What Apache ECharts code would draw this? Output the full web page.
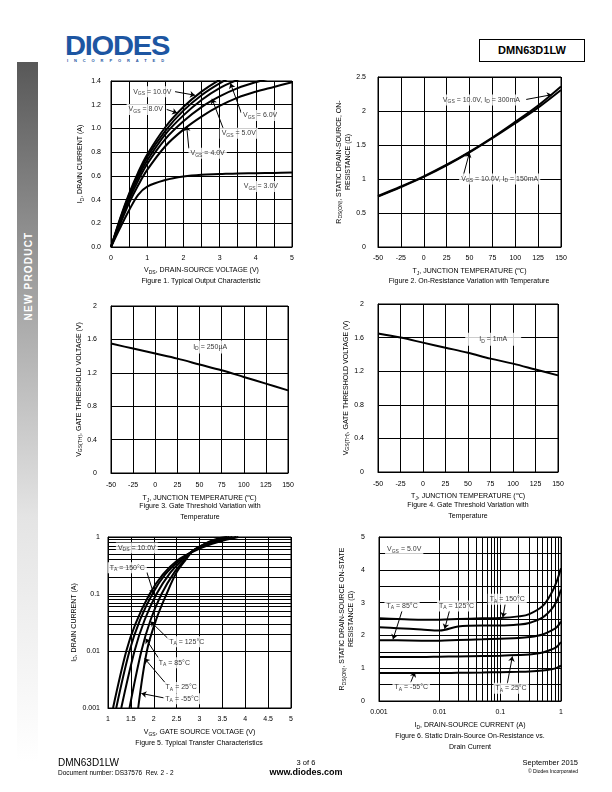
<!DOCTYPE html>
<html><head><meta charset="utf-8">
<script src="https://cdn.jsdelivr.net/npm/echarts@6/dist/echarts.min.js"></script>
<style>
html,body{margin:0;padding:0;background:#fff;}
#page{position:relative;width:612px;height:792px;overflow:hidden;font-family:"Liberation Sans",Arial,sans-serif;}
#side{position:absolute;left:17px;top:62px;width:21px;height:700px;background:linear-gradient(#585858,#9c9c9c 30%,#e4e4e4 65%,#fff);}
#sidetxt{position:absolute;left:28px;top:276px;transform:translate(-50%,-50%) rotate(-90deg);color:#fff;font-weight:bold;font-size:10px;letter-spacing:1.2px;white-space:nowrap;}
#logo{position:absolute;left:65px;top:30px;color:#1d56a2;font-weight:bold;font-size:28px;letter-spacing:-1.2px;transform-origin:left top;transform:scaleX(1.04);}
#inc{position:absolute;left:67px;top:58px;color:#1d56a2;font-size:4px;font-weight:bold;letter-spacing:5.9px;}
#part{position:absolute;left:479px;top:39px;width:104px;height:21px;border:1px solid #000;font-weight:bold;font-size:11px;line-height:21px;text-align:center;}
#chart{position:absolute;left:0;top:0;width:612px;height:792px;}
.ft{position:absolute;white-space:nowrap;color:#000;}
</style></head>
<body><div id="page">
<div id="side"></div><div id="sidetxt">NEW PRODUCT</div>
<div id="logo">DIODES</div><div id="inc">INCORPORATED</div>
<div id="part">DMN63D1LW</div>
<div id="chart"></div>
<div class="ft" style="left:58px;top:757px;font-size:10px;">DMN63D1LW</div>
<div class="ft" style="left:58px;top:769px;font-size:6.5px;">Document number: DS37576&nbsp; Rev. 2 - 2</div>
<div class="ft" style="left:306px;top:758px;font-size:7.5px;transform:translateX(-50%);">3 of 6</div>
<div class="ft" style="left:306px;top:767px;font-size:9px;font-weight:bold;transform:translateX(-50%);">www.diodes.com</div>
<div class="ft" style="right:34px;top:758px;font-size:7.5px;">September 2015</div>
<div class="ft" style="right:34px;top:768px;font-size:5px;">© Diodes Incorporated</div>
</div>
<script>
// ---------- DATA ----------
// Fig 1: output characteristic
const f1_vds = [0, 0.25, 0.5, 0.75, 1, 1.5, 2, 2.5, 3, 3.5, 4, 4.5, 5];
const f1_id_10 = [0, 0.24, 0.45, 0.63, 0.78, 1.01, 1.18, 1.31, 1.41, 1.49, 1.55, 1.6, 1.64];
const f1_id_8  = [0, 0.23, 0.44, 0.61, 0.76, 0.98, 1.15, 1.28, 1.38, 1.46, 1.52, 1.57, 1.61];
const f1_id_6  = [0, 0.22, 0.42, 0.59, 0.73, 0.95, 1.11, 1.24, 1.34, 1.41, 1.47, 1.52, 1.56];
const f1_id_5  = [0, 0.21, 0.40, 0.56, 0.70, 0.91, 1.06, 1.18, 1.27, 1.34, 1.39, 1.43, 1.46];
const f1_id_4  = [0, 0.19, 0.37, 0.52, 0.65, 0.85, 0.99, 1.10, 1.19, 1.26, 1.31, 1.35, 1.39];
const f1_id_3  = [0, 0.16, 0.31, 0.44, 0.51, 0.565, 0.595, 0.61, 0.615, 0.62, 0.622, 0.625, 0.628];
// Fig 2: on-resistance vs temperature
const f2_tj = [-50, -25, 0, 25, 50, 75, 100, 125, 150];
const f2_r_150mA = [0.74, 0.88, 1.03, 1.2, 1.39, 1.6, 1.82, 2.05, 2.31];
const f2_r_300mA = [0.75, 0.89, 1.04, 1.21, 1.40, 1.61, 1.84, 2.08, 2.36];
// Fig 3 / Fig 4: gate threshold vs temperature
const f3_tj = [-50, -25, 0, 25, 50, 75, 100, 125, 150];
const f3_vth_250uA = [1.55, 1.49, 1.43, 1.37, 1.30, 1.23, 1.15, 1.07, 0.99];
const f4_vth_1mA = [1.65, 1.60, 1.54, 1.48, 1.42, 1.35, 1.29, 1.22, 1.15];
// Fig 5: transfer characteristics (VGS, ID)
const f5_vgs_150 = [1.11, 1.4, 1.6, 1.91, 2.2, 2.5, 2.85, 3.2, 3.6, 3.85];
const f5_id_150  = [0.001, 0.01, 0.03, 0.1, 0.22, 0.38, 0.55, 0.72, 0.9, 1.0];
const f5_vgs_125 = [1.18, 1.47, 1.7, 1.97, 2.25, 2.55, 2.85, 3.2, 3.6, 3.8];
const f5_id_125  = [0.001, 0.01, 0.035, 0.1, 0.22, 0.38, 0.56, 0.75, 0.93, 1.0];
const f5_vgs_85  = [1.29, 1.58, 1.8, 2.06, 2.35, 2.6, 2.85, 3.2, 3.5, 3.72];
const f5_id_85   = [0.001, 0.01, 0.035, 0.1, 0.23, 0.38, 0.57, 0.78, 0.93, 1.0];
const f5_vgs_25  = [1.47, 1.73, 1.93, 2.17, 2.45, 2.7, 2.85, 3.2, 3.5, 3.65];
const f5_id_25   = [0.001, 0.01, 0.035, 0.1, 0.24, 0.42, 0.57, 0.8, 0.95, 1.0];
const f5_vgs_m55 = [1.66, 1.85, 2.05, 2.28, 2.5, 2.7, 2.87, 3.2, 3.45, 3.6];
const f5_id_m55  = [0.001, 0.01, 0.035, 0.1, 0.24, 0.4, 0.58, 0.82, 0.96, 1.0];
// Fig 6: on-resistance vs drain current
const f6_id = [0.001, 0.002, 0.005, 0.01, 0.02, 0.05, 0.1, 0.2, 0.3, 0.5, 0.7, 0.85, 1];
const f6_r_150 = [2.52, 2.5, 2.48, 2.48, 2.5, 2.52, 2.53, 2.58, 2.65, 2.9, 3.3, 3.65, 4.05];
const f6_r_125 = [2.25, 2.22, 2.18, 2.15, 2.27, 2.3, 2.3, 2.33, 2.38, 2.55, 2.8, 3.05, 3.4];
const f6_r_85  = [1.85, 1.85, 1.84, 1.84, 1.86, 1.88, 1.9, 1.92, 1.95, 2.03, 2.15, 2.25, 2.42];
const f6_r_25  = [1.34, 1.34, 1.34, 1.35, 1.36, 1.37, 1.38, 1.4, 1.42, 1.48, 1.57, 1.65, 1.8];
const f6_r_m55 = [0.85, 0.85, 0.85, 0.85, 0.86, 0.87, 0.88, 0.89, 0.9, 0.93, 0.97, 1.01, 1.08];
// log minor grid values
const minorLog = [0.002,0.003,0.004,0.005,0.006,0.007,0.008,0.009,0.02,0.03,0.04,0.05,0.06,0.07,0.08,0.09,0.2,0.3,0.4,0.5,0.6,0.7,0.8,0.9];
// annotations: [x, y, text]  and arrows: [x1, y1, x2, y2]
const f1_labels = [[1.14,1.31,'V{s|GS} = 10.0V'],[0.96,1.16,'V{s|GS} = 8.0V'],[4.12,1.11,'V{s|GS} = 6.0V'],[3.53,0.96,'V{s|GS} = 5.0V'],[2.67,0.79,'V{s|GS} = 4.0V'],[4.14,0.51,'V{s|GS} = 3.0V']];
const f1_arrows = [[1.77,1.31,2.32,1.28],[1.54,1.16,1.83,1.13],[3.6,1.13,3.3,1.38],[3.1,1.0,2.79,1.25],[2.15,0.83,2.09,1.02]];
const f2_labels = [[63,2.16,'V{s|GS} = 10.0V, I{s|D} = 300mA'],[83,1.0,'V{s|GS} = 10.0V, I{s|D} = 150mA']];
const f2_arrows = [[112,2.17,140,2.24],[43,1.04,50,1.39]];
const f3_labels = [[62,1.51,'I{s|D} = 250µA']];
const f4_labels = [[78,1.58,'I{s|D} = 1mA']];
const f5_labels = [[1.63,0.64,'V{s|DS} = 10.0V'],[1.42,0.29,'T{s|A} = 150°C'],[2.72,0.0146,'T{s|A} = 125°C'],[2.45,0.0062,'T{s|A} = 85°C'],[2.6,0.0023,'T{s|A} = 25°C'],[2.62,0.00146,'T{s|A} = -55°C']];
const f5_arrows = [[1.85,0.24,2.0,0.1],[2.33,0.016,1.93,0.033],[2.15,0.0066,1.82,0.0166],[2.28,0.0026,1.8,0.0074],[2.23,0.0015,1.73,0.0018]];
const f6_labels = [[0.0026,4.63,'V{s|GS} = 5.0V'],[0.0024,2.9,'T{s|A} = 85°C'],[0.019,2.9,'T{s|A} = 125°C'],[0.13,3.1,'T{s|A} = 150°C'],[0.0034,0.42,'T{s|A} = -55°C'],[0.15,0.39,'T{s|A} = 25°C']];
const f6_arrows = [[0.0024,2.75,0.0017,1.88],[0.0145,2.75,0.0121,2.2],[0.12,2.95,0.11,2.55],[0.0033,0.55,0.0039,0.88],[0.13,0.52,0.158,1.36]];

// ---------- CHART ----------
const F = '"Liberation Sans", Arial, sans-serif';
const R = { s: { fontSize: 5, fontFamily: F, color: '#000', verticalAlign: 'bottom', lineHeight: 6 } };
const GL = { color: '#000', width: 1 };
const zip = (a, b) => a.map((v, i) => [v, b[i]]);

const grids = [
  { left: 111, top: 81, width: 181, height: 166 },
  { left: 378, top: 77, width: 183, height: 170 },
  { left: 111, top: 306, width: 177, height: 167 },
  { left: 378, top: 304, width: 180, height: 168 },
  { left: 108, top: 537, width: 183, height: 171 },
  { left: 379, top: 537, width: 182, height: 164 }
].map(g => Object.assign({ show: true, borderColor: '#000', borderWidth: 1, containLabel: false }, g));

function lab(margin, fmt) {
  const o = { color: '#000', fontSize: 7, fontFamily: F, margin };
  if (fmt) o.formatter = fmt;
  return o;
}
function axis(gi, o) {
  return Object.assign({
    gridIndex: gi,
    axisLine: { show: true, onZero: false, lineStyle: GL },
    axisTick: { show: false },
    splitLine: { show: true, lineStyle: GL },
    axisLabel: lab(8),
    nameLocation: 'middle',
    nameTextStyle: { color: '#000', fontSize: 7, fontFamily: F, lineHeight: 9, rich: R }
  }, o);
}
const minor2 = { minorTick: { show: false, splitNumber: 2 }, minorSplitLine: { show: true, lineStyle: GL } };

const xAxes = [
  axis(0, Object.assign({ type: 'value', min: 0, max: 5, interval: 1, name: 'V{s|DS}, DRAIN-SOURCE VOLTAGE (V)', nameGap: 19 }, minor2)),
  axis(1, { type: 'value', min: -50, max: 150, interval: 25, name: 'T{s|J}, JUNCTION TEMPERATURE (℃)', nameGap: 20 }),
  axis(2, { type: 'value', min: -50, max: 150, interval: 25, name: 'T{s|J}, JUNCTION TEMPERATURE (℃)', nameGap: 21, axisLabel: lab(9) }),
  axis(3, { type: 'value', min: -50, max: 150, interval: 25, name: 'T{s|J}, JUNCTION TEMPERATURE (℃)', nameGap: 20, axisLabel: lab(9) }),
  axis(4, { type: 'value', min: 1, max: 5, interval: 0.5, name: 'V{s|GS}, GATE SOURCE VOLTAGE (V)', nameGap: 20 }),
  axis(5, { type: 'log', logBase: 10, min: 0.001, max: 1, name: 'I{s|D}, DRAIN-SOURCE CURRENT (A)', nameGap: 20 })
];
const yAxes = [
  axis(0, { type: 'value', min: 0, max: 1.4, interval: 0.2, name: 'I{s|D}, DRAIN CURRENT (A)', nameGap: 26, axisLabel: lab(10, v => v.toFixed(1)) }),
  axis(1, { type: 'value', min: 0, max: 2.5, interval: 0.5, name: 'R{s|DS(ON)}, STATIC DRAIN-SOURCE, ON-\nRESISTANCE (Ω)', nameGap: 22, axisLabel: lab(12) }),
  axis(2, { type: 'value', min: 0, max: 2, interval: 0.4, name: 'V{s|GS(TH)}, GATE THRESHOLD VOLTAGE (V)', nameGap: 26, axisLabel: lab(14, v => String(+v.toFixed(1))) }),
  axis(3, { type: 'value', min: 0, max: 2, interval: 0.4, name: 'V{s|GS(TH)}, GATE THRESHOLD VOLTAGE (V)', nameGap: 25, axisLabel: lab(14, v => String(+v.toFixed(1))) }),
  axis(4, { type: 'log', logBase: 10, min: 0.001, max: 1, name: 'I{s|D}, DRAIN CURRENT (A)', nameGap: 22, axisLabel: lab(8) }),
  axis(5, Object.assign({ type: 'value', min: 0, max: 5, interval: 1, name: 'R{s|DS(ON)}, STATIC DRAIN-SOURCE ON-STATE\nRESISTANCE (Ω)', nameGap: 23, axisLabel: lab(14) }, minor2))
];

const series = [];
function curve(gi, data) {
  series.push({ type: 'line', xAxisIndex: gi, yAxisIndex: gi, data, smooth: 0.35, showSymbol: false, symbol: 'none', clip: true, silent: true,
    lineStyle: { color: '#000', width: 2 }, z: 5 });
}
function notes(gi, labels, arrows, pad) {
  const s = { type: 'scatter', xAxisIndex: gi, yAxisIndex: gi, symbolSize: 1, itemStyle: { color: 'rgba(0,0,0,0)' }, silent: true, z: 6,
    data: labels.map(l => ({ value: [l[0], l[1]], name: l[2] })),
    label: { show: true, position: 'inside', formatter: p => p.name, color: '#000', fontSize: 7, fontFamily: F, lineHeight: 9,
      backgroundColor: '#fff', padding: pad || [1, 2], rich: R } };
  if (arrows && arrows.length) {
    s.markLine = { silent: true, symbol: ['none', 'arrow'], symbolSize: 5, animation: false,
      lineStyle: { color: '#000', width: 1, type: 'solid' }, label: { show: false },
      data: arrows.map(a => [{ coord: [a[0], a[1]] }, { coord: [a[2], a[3]] }]) };
  }
  series.push(s);
}
function minorLines(gi, dim) {
  series.push({ type: 'line', xAxisIndex: gi, yAxisIndex: gi, data: [], silent: true,
    markLine: { silent: true, symbol: ['none', 'none'], animation: false, label: { show: false },
      lineStyle: { color: '#000', width: 1, type: 'solid' },
      data: minorLog.map(v => ({ [dim]: v })) } });
}

// Fig 1
[f1_id_10, f1_id_8, f1_id_6, f1_id_5, f1_id_4, f1_id_3].forEach(d => curve(0, zip(f1_vds, d)));
notes(0, f1_labels, f1_arrows);
// Fig 2
curve(1, zip(f2_tj, f2_r_150mA)); curve(1, zip(f2_tj, f2_r_300mA));
notes(1, f2_labels, f2_arrows);
// Fig 3, 4
curve(2, zip(f3_tj, f3_vth_250uA)); notes(2, f3_labels, [], [2, 12]);
curve(3, zip(f3_tj, f4_vth_1mA)); notes(3, f4_labels, [], [2, 14]);
// Fig 5
minorLines(4, 'yAxis');
[[f5_vgs_150, f5_id_150], [f5_vgs_125, f5_id_125], [f5_vgs_85, f5_id_85], [f5_vgs_25, f5_id_25], [f5_vgs_m55, f5_id_m55]]
  .forEach(p => curve(4, zip(p[0], p[1])));
notes(4, f5_labels, f5_arrows);
// Fig 6
minorLines(5, 'xAxis');
[f6_r_150, f6_r_125, f6_r_85, f6_r_25, f6_r_m55].forEach(d => curve(5, zip(f6_id, d)));
notes(5, f6_labels, f6_arrows);

const captions = [
  [201, 281, 'Figure 1. Typical Output Characteristic'],
  [469, 281, 'Figure 2. On-Resistance Variation with Temperature'],
  [200, 506, 'Figure 3. Gate Threshold Variation with'], [200, 517, 'Temperature'],
  [468, 505, 'Figure 4. Gate Threshold Variation with'], [468, 516, 'Temperature'],
  [199, 743, 'Figure 5. Typical Transfer Characteristics'],
  [470, 736, 'Figure 6. Static Drain-Source On-Resistance vs.'], [470, 747, 'Drain Current']
];

const chart = echarts.init(document.getElementById('chart'), null, { renderer: 'canvas' });
chart.setOption({
  animation: false,
  grid: grids, xAxis: xAxes, yAxis: yAxes, series,
  graphic: captions.map(c => ({ type: 'text', x: c[0], y: c[1], silent: true,
    style: { text: c[2], fill: '#000', font: '7px ' + F, align: 'center', verticalAlign: 'middle' } }))
});
</script>
</body></html>
